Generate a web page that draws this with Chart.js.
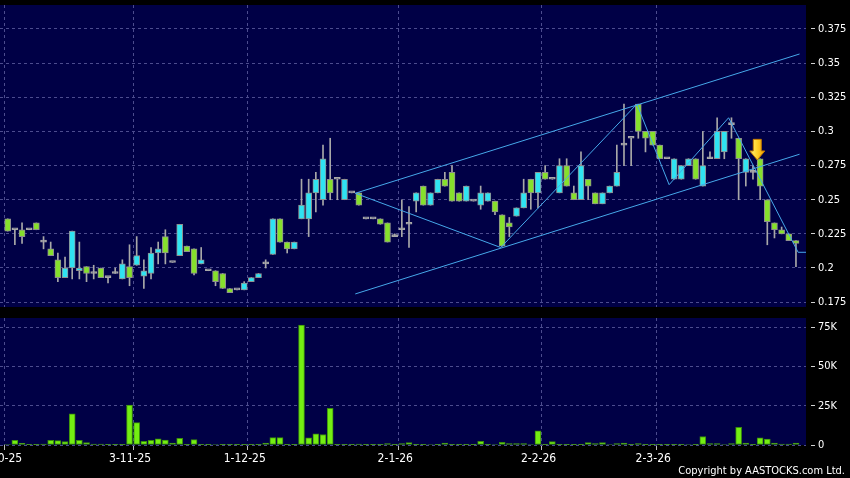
<!DOCTYPE html>
<html>
<head>
<meta charset="utf-8">
<title>Price and volume</title>
<script src="https://cdn.jsdelivr.net/npm/chart.js@4/dist/chart.umd.min.js"></script>
<style>
html,body{margin:0;padding:0;background:#000;}
#wrap{position:relative;width:850px;height:478px;overflow:hidden;background:#000;}
#price{position:absolute;left:0;top:0;}
#vol{position:absolute;left:0;top:311px;}
#copy{position:absolute;right:5px;top:464px;color:#fff;font:11px 'DejaVu Sans Condensed','DejaVu Sans',sans-serif;white-space:nowrap;}
</style>
</head>
<body>
<div id="wrap">
  <canvas id="price" width="850" height="312"></canvas>
  <canvas id="vol" width="850" height="167"></canvas>
  <div id="copy">Copyright by AASTOCKS.com Ltd.</div>
</div>
<script>
// daily candles, oldest first (one entry per trading day shown)
const opens = [
  0.236,0.228,0.228,0.228,0.233,0.219,0.214,0.206,0.193,0.200,
  0.198,0.201,0.196,0.200,0.193,0.196,0.192,0.201,0.202,0.194,
  0.196,0.211,0.223,0.204,0.209,0.216,0.214,0.203,0.198,0.198,
  0.196,0.185,0.184,0.184,0.190,0.193,0.203,0.210,0.236,0.219,
  0.214,0.236,0.236,0.255,0.250,0.265,0.265,0.250,0.255,0.255,
  0.236,0.236,0.236,0.233,0.223,0.228,0.232,0.249,0.260,0.246,
  0.255,0.265,0.270,0.255,0.249,0.249,0.246,0.249,0.249,0.239,
  0.233,0.238,0.244,0.265,0.255,0.270,0.265,0.255,0.275,0.255,
  0.250,0.265,0.255,0.247,0.255,0.260,0.290,0.295,0.320,0.300,
  0.300,0.290,0.280,0.265,0.265,0.275,0.280,0.260,0.280,0.280,
  0.285,0.305,0.295,0.270,0.270,0.280,0.250,0.233,0.228,0.225,
  0.220
];
const highs = [
  0.236,0.228,0.233,0.228,0.233,0.223,0.219,0.211,0.208,0.227,
  0.219,0.201,0.202,0.200,0.193,0.200,0.206,0.217,0.223,0.206,
  0.215,0.219,0.228,0.204,0.232,0.216,0.214,0.215,0.198,0.198,
  0.196,0.185,0.184,0.190,0.193,0.196,0.206,0.236,0.236,0.219,
  0.219,0.265,0.265,0.270,0.290,0.295,0.265,0.265,0.255,0.255,
  0.236,0.236,0.236,0.233,0.225,0.250,0.245,0.255,0.260,0.255,
  0.265,0.270,0.275,0.255,0.260,0.249,0.260,0.255,0.249,0.239,
  0.237,0.244,0.265,0.265,0.270,0.275,0.265,0.280,0.280,0.260,
  0.285,0.265,0.255,0.255,0.260,0.290,0.320,0.295,0.320,0.300,
  0.300,0.290,0.280,0.280,0.275,0.280,0.280,0.300,0.285,0.310,
  0.300,0.310,0.295,0.280,0.275,0.280,0.250,0.233,0.230,0.225,
  0.220
];
const lows = [
  0.227,0.217,0.218,0.228,0.228,0.214,0.209,0.190,0.193,0.192,
  0.192,0.190,0.192,0.193,0.189,0.196,0.192,0.187,0.202,0.185,
  0.192,0.203,0.203,0.204,0.209,0.212,0.195,0.203,0.198,0.187,
  0.185,0.182,0.184,0.184,0.190,0.193,0.200,0.210,0.219,0.211,
  0.214,0.236,0.223,0.241,0.246,0.250,0.250,0.250,0.255,0.246,
  0.236,0.236,0.232,0.219,0.223,0.223,0.215,0.241,0.246,0.246,
  0.255,0.260,0.249,0.249,0.249,0.249,0.243,0.249,0.239,0.216,
  0.223,0.238,0.244,0.243,0.244,0.265,0.265,0.255,0.260,0.250,
  0.250,0.250,0.247,0.247,0.255,0.260,0.275,0.275,0.295,0.285,
  0.290,0.280,0.280,0.265,0.265,0.275,0.265,0.260,0.280,0.280,
  0.280,0.295,0.250,0.260,0.265,0.250,0.217,0.222,0.225,0.220,
  0.201
];
const closes = [
  0.227,0.228,0.223,0.228,0.228,0.219,0.209,0.193,0.200,0.227,
  0.200,0.196,0.196,0.193,0.193,0.196,0.203,0.193,0.209,0.198,
  0.211,0.214,0.211,0.204,0.232,0.212,0.196,0.206,0.198,0.190,
  0.185,0.182,0.184,0.189,0.193,0.196,0.203,0.236,0.219,0.214,
  0.219,0.246,0.255,0.265,0.280,0.255,0.265,0.265,0.255,0.246,
  0.236,0.236,0.232,0.219,0.223,0.228,0.232,0.255,0.246,0.255,
  0.265,0.260,0.249,0.249,0.260,0.249,0.255,0.255,0.241,0.216,
  0.230,0.244,0.255,0.255,0.270,0.265,0.265,0.275,0.260,0.250,
  0.275,0.260,0.247,0.255,0.260,0.270,0.290,0.295,0.300,0.295,
  0.290,0.280,0.280,0.280,0.275,0.280,0.265,0.275,0.280,0.300,
  0.300,0.305,0.280,0.280,0.270,0.260,0.234,0.228,0.225,0.220,
  0.218
];
// volume in thousands of shares
const volK = [
  0.3,3.0,1.1,0.2,0.2,0.6,3.0,2.8,2.2,19.8,
  3.0,1.5,0.6,0.6,0.2,0.2,0.1,25.4,14.2,2.4,
  3.0,3.9,3.2,1.3,4.3,0.2,3.4,0.1,0.2,0.3,
  0.4,0.5,0.5,0.1,0.2,0.2,1.3,4.7,4.7,0.1,
  0.2,76.3,4.5,7.1,6.7,23.3,0.1,0.1,0.2,0.6,
  0.5,0.1,0.1,0.9,0.1,0.9,1.5,0.2,0.2,0.3,
  0.2,1.3,0.2,0.2,0.2,0.5,2.4,0.2,0.3,1.7,
  0.9,0.9,0.9,0.3,9.0,0.2,2.2,0.2,0.2,0.2,
  0.2,1.5,0.9,1.5,0.3,0.9,1.3,0.2,0.9,0.1,
  0.1,0.1,0.1,0.2,0.2,0.3,0.5,5.4,0.9,0.9,
  0.3,0.9,11.2,1.3,0.2,4.5,3.7,1.3,0.6,0.6,
  1.3
];

// month boundaries, in candle-index units
const monthPos = [-0.5, 17.5, 33.5, 54.5, 74.5, 90.5];
const monthLabels = ['2-10-25', '3-11-25', '1-12-25', '2-1-26', '2-2-26', '2-3-26'];
const priceTicks = [0.175, 0.2, 0.225, 0.25, 0.275, 0.3, 0.325, 0.35, 0.375];
const volTicks = [0, 25, 50, 75];

// drawn trend lines (candle index, price)
const upperChannel = [{x: 48.5, y: 0.2547}, {x: 110.5, y: 0.3567}];
const lowerChannel = [{x: 48.5, y: 0.1810}, {x: 110.5, y: 0.2833}];
const zigzag = [
  {x: 48.5, y: 0.2547}, {x: 68.8, y: 0.2150}, {x: 87.8, y: 0.3200},
  {x: 92.3, y: 0.2610}, {x: 100.6, y: 0.3100}, {x: 110.3, y: 0.2115},
  {x: 111.4, y: 0.2115}
];
// signal arrow
const arrowIdx = 104.6, arrowTop = 0.2942, arrowTip = 0.2791;

const NAVY = '#000046';
const CYAN = '#2fe3f2';
const GREEN = '#86e02c';
const GREY = '#a8a8a8';
const LINE = '#46a8ea';
const GRID = '#4c4c8e';
const FONT = "'DejaVu Sans Condensed','DejaVu Sans',sans-serif";

const xMin = -1.075, xMax = 111.4;
const idx = opens.map((_, i) => i);

Chart.defaults.font.family = FONT;
Chart.defaults.color = '#ffffff';

function bodyColor(i) {
  if (closes[i] > opens[i]) return CYAN;
  if (closes[i] < opens[i]) return GREEN;
  return GREY;
}

const panelBg = {
  id: 'panelBg',
  beforeDraw(chart) {
    const a = chart.chartArea, ctx = chart.ctx;
    ctx.save();
    ctx.fillStyle = NAVY;
    ctx.fillRect(a.left, a.top, a.right - a.left, a.bottom - a.top);
    ctx.restore();
  }
};

const arrowMark = {
  id: 'arrowMark',
  afterDatasetsDraw(chart) {
    const ctx = chart.ctx;
    const x = chart.scales.x.getPixelForValue(arrowIdx);
    const y0 = chart.scales.y.getPixelForValue(arrowTop);
    const y1 = chart.scales.y.getPixelForValue(arrowTip);
    const head = 9;
    ctx.save();
    const g = ctx.createLinearGradient(x - 7, 0, x + 7, 0);
    g.addColorStop(0, '#fff27a');
    g.addColorStop(0.5, '#ffd22a');
    g.addColorStop(1, '#f0a000');
    ctx.fillStyle = g;
    ctx.strokeStyle = '#c47a00';
    ctx.lineWidth = 1;
    ctx.beginPath();
    ctx.moveTo(x - 4, y0);
    ctx.lineTo(x + 4, y0);
    ctx.lineTo(x + 4, y1 - head);
    ctx.lineTo(x + 7.5, y1 - head);
    ctx.lineTo(x, y1);
    ctx.lineTo(x - 7.5, y1 - head);
    ctx.lineTo(x - 4, y1 - head);
    ctx.closePath();
    ctx.fill();
    ctx.stroke();
    ctx.restore();
  }
};

function lineSet(points) {
  return {
    type: 'line', data: points, borderColor: LINE, borderWidth: 1,
    pointRadius: 0, fill: false, tension: 0, order: 0
  };
}

function xAxis(showLabels) {
  return {
    type: 'linear', min: xMin, max: xMax, offset: false,
    afterBuildTicks: s => { s.ticks = monthPos.map(v => ({value: v})); },
    afterFit: s => {
      s.height = showLabels ? 24 : 0;
      s.paddingLeft = 0;
      s.paddingRight = 0;
    },
    grid: {
      color: GRID, offset: false, drawTicks: showLabels, tickLength: 5,
      tickColor: '#bdbdbd'
    },
    border: {display: false, dash: [3, 3]},
    ticks: {
      display: showLabels, autoSkip: false, maxRotation: 0, padding: 2,
      labelOffset: -3, color: '#ffffff', font: {size: 12},
      callback: v => monthLabels[monthPos.indexOf(v)]
    }
  };
}

function yAxis(min, max, tickVals, fmt) {
  return {
    position: 'right', min: min, max: max,
    afterBuildTicks: s => { s.ticks = tickVals.map(v => ({value: v})); },
    afterFit: s => {
      s.width = 44;
      s.paddingTop = 0;
      s.paddingBottom = 0;
    },
    grid: {
      color: GRID, drawTicks: true, tickLength: 9, tickColor: '#d0d0d0',
      tickBorderDash: [0, 5, 4, 20]
    },
    border: {display: false, dash: [3, 3]},
    ticks: {padding: 3, color: '#ffffff', font: {size: 11}, callback: fmt}
  };
}

new Chart(document.getElementById('price'), {
  type: 'bar',
  data: {
    datasets: [
      lineSet(upperChannel),
      lineSet(lowerChannel),
      lineSet(zigzag),
      {
        data: idx.map(i => ({x: i, y: [opens[i], closes[i]]})),
        backgroundColor: c => bodyColor(c.dataIndex),
        borderColor: c => (opens[c.dataIndex] === closes[c.dataIndex] ? GREY : '#8f8f8f'),
        borderWidth: 1, borderSkipped: false, barThickness: 6, minBarLength: 2,
        grouped: false, order: 1
      },
      {
        data: idx.map(i => ({x: i, y: [lows[i], highs[i]]})),
        backgroundColor: GREY, borderWidth: 0, barThickness: 1,
        grouped: false, order: 2
      }
    ]
  },
  options: {
    responsive: false, animation: false,
    layout: {padding: {top: 5, bottom: 5, left: 0, right: 0}},
    plugins: {legend: {display: false}, tooltip: {enabled: false}},
    scales: {
      x: xAxis(false),
      y: yAxis(0.17144, 0.39257, priceTicks, v => String(+v.toFixed(3)))
    }
  },
  plugins: [panelBg, arrowMark]
});

new Chart(document.getElementById('vol'), {
  type: 'bar',
  data: {
    datasets: [{
      data: idx.map(i => ({x: i, y: volK[i]})),
      backgroundColor: '#74ee12', borderColor: '#3a8c0c',
      borderWidth: 1, borderSkipped: false, barThickness: 6, grouped: false
    }]
  },
  options: {
    responsive: false, animation: false,
    layout: {padding: {top: 7, bottom: 9, left: 0, right: 0}},
    plugins: {legend: {display: false}, tooltip: {enabled: false}},
    scales: {
      x: xAxis(true),
      y: yAxis(0, 80.8, volTicks, v => (v === 0 ? '0' : v + 'K'))
    }
  },
  plugins: [panelBg]
});
</script>
</body>
</html>
